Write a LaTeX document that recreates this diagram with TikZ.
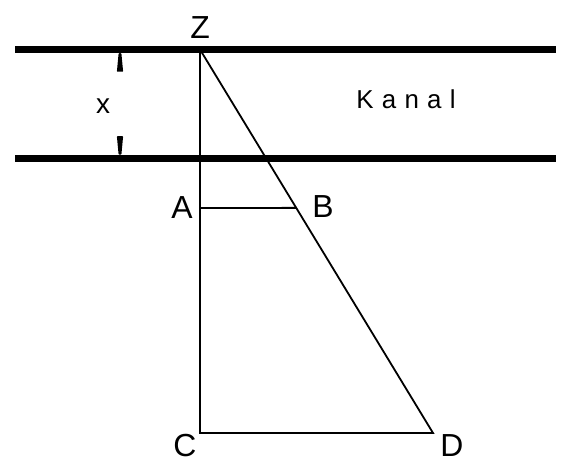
\documentclass[tikz,border=0pt]{standalone}
\usepackage{fontspec}
\setmainfont{Liberation Sans}
\newfontfamily\spacedfont[LetterSpace=32]{Liberation Sans}
\usetikzlibrary{calc}

\begin{document}
\begin{tikzpicture}[
  x=1bp, y=-1bp,
  every node/.style={inner sep=0pt},
  canal/.style={line width=6.5bp},
  edge/.style={line width=1.8bp},
  ptlabel/.style={font=\fontsize{32}{32}\selectfont},
  smalllabel/.style={font=\fontsize{28}{28}\selectfont},
  dimtip/.style={fill=black, draw=black, line width=1.5bp, line join=round},
]
  \useasboundingbox (0,0) rectangle (564,463);

  % canal banks
  \coordinate (bankTL) at (15,49.5);
  \coordinate (bankTR) at (556,49.5);
  \coordinate (bankBL) at (15,158.5);
  \coordinate (bankBR) at (556,158.5);
  \draw[canal] (bankTL) -- (bankTR);
  \draw[canal] (bankBL) -- (bankBR);

  % points
  \coordinate (Z) at (200,49.5);
  \coordinate (A) at (200,208);
  \coordinate (C) at (200,433);
  \coordinate (D) at (433,433);
  \coordinate (B) at ($(Z)!0.413!(D)$);

  \draw[edge] (Z) -- (C) -- (D) -- cycle;
  \draw[edge] (A) -- (B);

  % width of the canal
  \path[dimtip] (119.3,54) -- (120.7,54) -- (122.3,71) -- (117.7,71) -- cycle;
  \path[dimtip] (119.3,154) -- (120.7,154) -- (122.3,137) -- (117.7,137) -- cycle;

  % labels
  \node[ptlabel] (lblZ) at (200,28) {Z};
  \node[ptlabel] (lblA) at (182,208) {A};
  \node[ptlabel] (lblB) at (323,207) {B};
  \node[ptlabel] (lblC) at (185,446) {C};
  \node[ptlabel] (lblD) at (452,446) {D};
  \node[smalllabel] (lblx) at (103,106) {x};
  \node[smalllabel, font=\fontsize{26}{26}\selectfont\spacedfont] (lblkanal) at (406,99) {Kanal};
\end{tikzpicture}
\end{document}
